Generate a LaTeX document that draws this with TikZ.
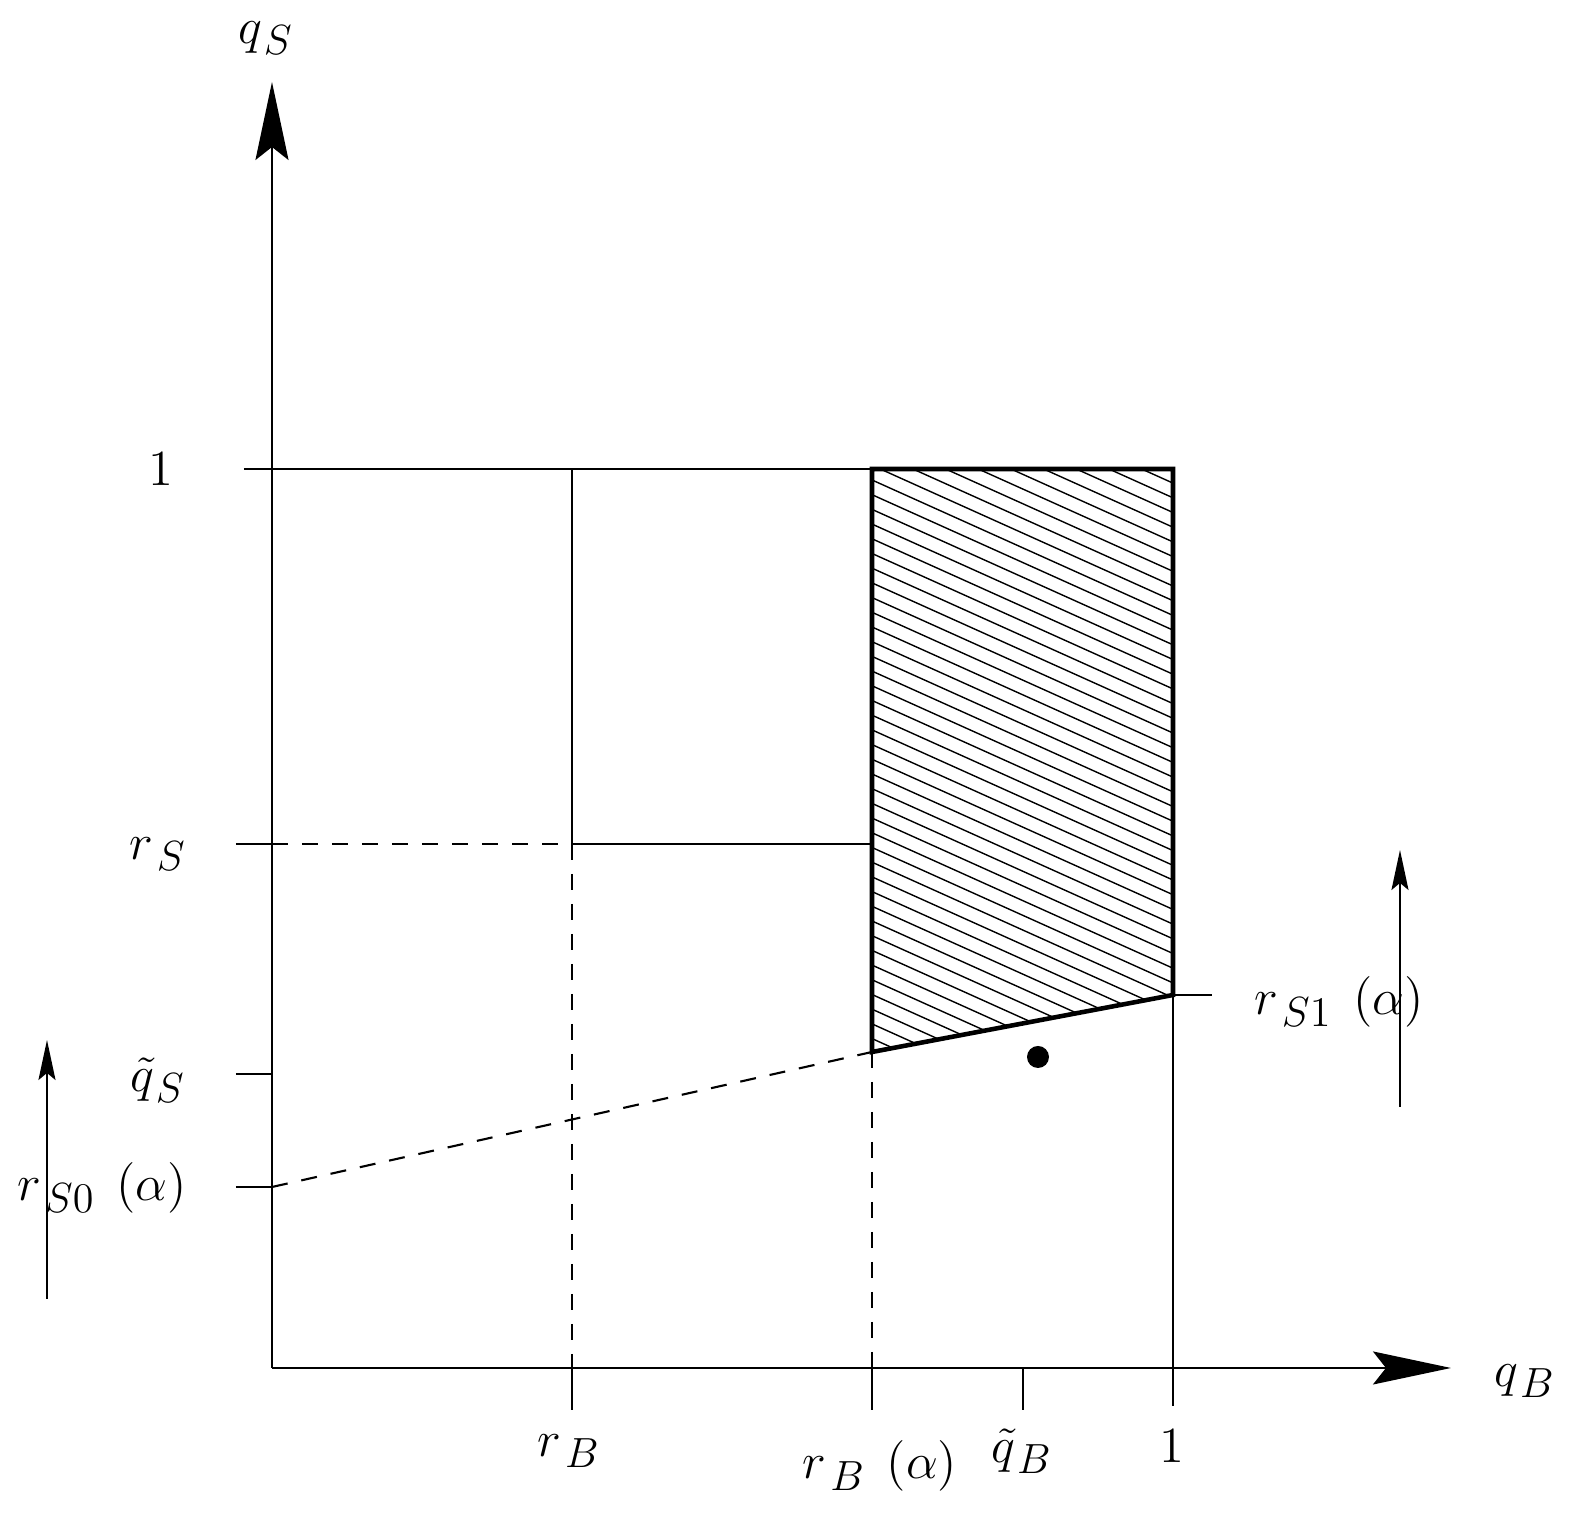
\documentclass[tikz,border=0pt]{standalone}
\usetikzlibrary{arrows.meta}
\DeclareMathSizes{14}{14}{12}{9}

\begin{document}
\begin{tikzpicture}[line cap=butt]

%---- STYLES ----
\tikzset{
    axis/.style={line width=0.6pt, -{Stealth[length=0.78cm, width=0.33cm, inset=0.13cm]}},
    shift arrow/.style={line width=0.6pt, -{Stealth[length=0.40cm, width=0.17cm, inset=0.07cm]}},
    gridline/.style={line width=0.6pt},
    guide/.style={line width=0.6pt, dash pattern=on 0.16cm off 0.14cm},
    border/.style={line width=1.3pt, line join=miter},
    hatch/.style={line width=0.4pt},
    lbl/.style={font=\fontsize{14}{17}\selectfont, inner sep=0pt},
}

% FRAME
\useasboundingbox (-2.72,-1.45) rectangle (13.03,13.68);

% VALUES on the axes
\def\xone{9.01}  % q_B = 1
\def\yone{8.99}  % q_S = 1
\def\rB{3.00}
\def\rBa{6.00}
\def\qB{7.51}
\def\rS{5.24}
\def\qS{2.94}
\def\rSo{1.81}   % r_S0(alpha)
\def\rSi{3.73}   % r_S1(alpha)
\def\cut{3.16}

\coordinate (O) at (0,0);
\coordinate (Xend) at (11.79,0);
\coordinate (Yend) at (0,12.86);

% corners of the region
\coordinate (TL) at (\rBa,\yone);
\coordinate (TR) at (\xone,\yone);
\coordinate (BR) at (\xone,\rSi);
\coordinate (BL) at (\rBa,\cut);

%---- AXES ----
\draw[axis] (O) -- (Xend);
\draw[axis] (O) -- (Yend);

%---- HORIZONTALS ----
\draw[gridline] (-0.28,\yone) -- (TL);
\draw[gridline] (-0.36,\rS) -- (0,\rS);
\draw[guide] (0,\rS) -- (\rB,\rS);
\draw[gridline] (\rB,\rS) -- (\rBa,\rS);
\draw[gridline] (-0.36,\qS) -- (0,\qS);
\draw[gridline] (-0.36,\rSo) -- (0,\rSo);
\draw[gridline] (BR) -- ++(0.39,0);

%---- VERTICALS ----
\draw[gridline] (\rB,\yone) -- (\rB,\rS);
\draw[guide] (\rB,\rS) -- (\rB,0);
\draw[gridline] (\rB,0) -- (\rB,-0.42);
\draw[guide] (BL) -- (\rBa,0);
\draw[gridline] (\rBa,0) -- (\rBa,-0.42);
\draw[gridline] (\qB,0) -- (\qB,-0.42);
\draw[gridline] (BR) -- (\xone,-0.38);

% r_S0 -- r_S1 line
\draw[guide] (0,\rSo) -- (BL);

%---- HATCHED REGION ----
\begin{scope}
  \clip (TL) -- (TR) -- (BR) -- (BL) -- cycle;
  \foreach \c in {3.0,3.147,...,10.5}
    \draw[hatch] (\rBa,\c) -- ++(3.1,-1.395);
\end{scope}
\draw[border] (BL) -- (TL) -- (TR) -- (BR) -- cycle;

% POINT
\coordinate (P) at (7.66,3.11);
\fill (P) circle (0.11);

%---- SHIFT ARROWS ----
\coordinate (L0) at (-2.25,0.69);
\coordinate (L1) at (-2.25,3.28);
\coordinate (R0) at (11.28,2.61);
\coordinate (R1) at (11.28,5.18);
\draw[shift arrow] (L0) -- (L1);
\draw[shift arrow] (R0) -- (R1);

%---- LABELS ----
\node[lbl] (qSname) at (-0.06,13.30) {$q_{\kern1pt S}$};
\node[lbl] (qBname) at (12.53,-0.13) {$q_{\kern1pt B}$};
\node[lbl] (oneS) at (-1.11,8.99) {$1$};
\node[lbl] (rSlbl) at (-1.14,5.14) {$r_{\kern1.5pt S}$};
\node[lbl] (qSlbl) at (-1.14,2.88) {$\tilde q_{\kern1pt S}$};
\node[lbl] (rS0lbl) at (-1.70,1.80) {$r_{\kern1.5pt S0}\kern6pt(\alpha)$};
\node[lbl] (rS1lbl) at (10.67,3.66) {$r_{\kern1.5pt S1}\kern6pt(\alpha)$};
\node[lbl] (rBlbl) at (2.97,-0.83) {$r_{\kern1.5pt B}$};
\node[lbl] (rBalbl) at (6.08,-0.98) {$r_{\kern1.5pt B}\kern6pt(\alpha)$};
\node[lbl] (qBlbl) at (7.50,-0.83) {$\tilde q_{\kern1pt B}$};
\node[lbl] (oneB) at (9.00,-0.78) {$1$};

\end{tikzpicture}
\end{document}
